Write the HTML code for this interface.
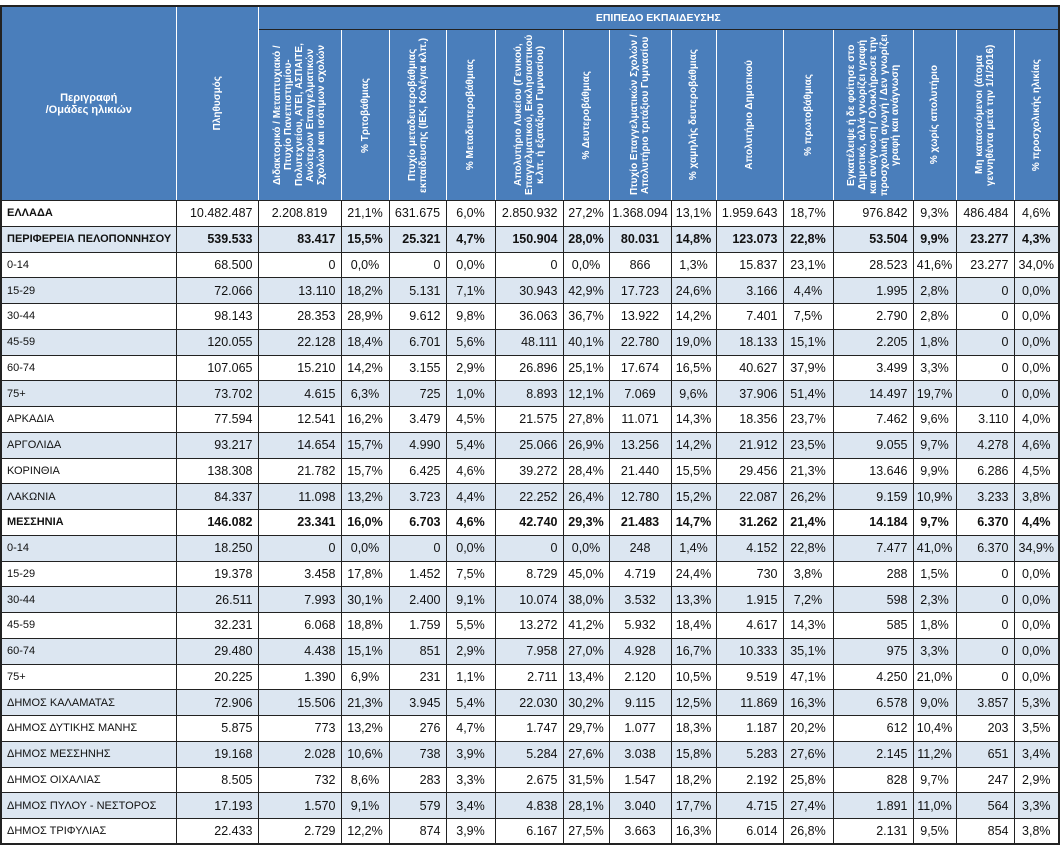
<!DOCTYPE html>
<html><head><meta charset="utf-8"><style>
body{margin:0;background:#fff;width:1060px;height:846px;overflow:hidden;font-family:"Liberation Sans",sans-serif;}
table{position:absolute;left:0;top:5px;border-collapse:collapse;table-layout:fixed;width:1058px;border:2px solid #222;}
td,th{border:1px solid #222;padding:0 4px;overflow:hidden;white-space:nowrap;}
th{background:#4a7ebb;color:#fff;font-size:10px;font-weight:bold;border-color:#fff #fff #222 #fff;}
th.top{height:22px;font-size:10.5px;}
th.v{height:170px;padding:0;}
th .r{writing-mode:vertical-rl;transform:rotate(180deg);margin:auto;line-height:11px;text-align:center;white-space:normal;max-height:162px;}
tr.d{height:25.75px}
td{font-size:12.5px;color:#111;text-align:right;padding:0 5px;}
td:first-child{text-align:left;font-size:11px;}
td.c{text-align:center;padding:0 2px}
tr.s td{background:#dce6f1}
tr.b td{font-weight:bold}
</style></head><body>
<table>
<colgroup><col style="width:175px"><col style="width:82px"><col style="width:83px"><col style="width:48px"><col style="width:57px"><col style="width:49px"><col style="width:68px"><col style="width:46px"><col style="width:62px"><col style="width:45px"><col style="width:67px"><col style="width:50px"><col style="width:80px"><col style="width:43px"><col style="width:58px"><col style="width:45px"></colgroup>
<tr><th rowspan="2" style="font-size:11px;border-left-color:#222">Περιγραφή<br>/Ομάδες ηλικιών</th><th rowspan="2" class="v"><div class="r">Πληθυσμός</div></th><th colspan="14" class="top">ΕΠΙΠΕΔΟ ΕΚΠΑΙΔΕΥΣΗΣ</th></tr>
<tr>
<th class="v"><div class="r">Διδακτορικό / Μεταπτυχιακό / Πτυχίο Πανεπιστημίου-Πολυτεχνείου, ΑΤΕΙ, ΑΣΠΑΙΤΕ, Ανώτερων Επαγγελματικών Σχολών και ισότιμων σχολών</div></th>
<th class="v"><div class="r">% Τριτοβάθμιας</div></th>
<th class="v"><div class="r">Πτυχίο μεταδευτεροβάθμιας εκπαίδευσης (ΙΕΚ, Κολέγια κλπ.)</div></th>
<th class="v"><div class="r">% Μεταδευτεροβάθμιας</div></th>
<th class="v"><div class="r">Απολυτήριο Λυκείου (Γενικού, Επαγγελματικού, Εκκλησιαστικού κ.λπ. ή εξατάξιου Γυμνασίου)</div></th>
<th class="v"><div class="r">% Δευτεροβάθμιας</div></th>
<th class="v"><div class="r">Πτυχίο Επαγγελματικών Σχολών / Απολυτήριο τριτάξιου Γυμνασίου</div></th>
<th class="v"><div class="r">% χαμηλής δευτεροβάθμιας</div></th>
<th class="v"><div class="r">Απολυτήριο Δημοτικού</div></th>
<th class="v"><div class="r">% πρωτοβάθμιας</div></th>
<th class="v"><div class="r">Εγκατέλειψε ή δε φοίτησε στο Δημοτικό, αλλά γνωρίζει γραφή και ανάγνωση / Ολοκλήρωσε την προσχολική αγωγή / Δεν γνωρίζει γραφή και ανάγνωση</div></th>
<th class="v"><div class="r">% χωρίς απολυτήριο</div></th>
<th class="v"><div class="r">Μη κατασσόμενοι (άτομα γεννηθέντα μετά την 1/1/2016)</div></th>
<th class="v" style="border-right-color:#222"><div class="r">% προσχολικής ηλικίας</div></th>
</tr>
<tr class="d"><td><b>ΕΛΛΑΔΑ</b></td><td>10.482.487</td><td class="c">2.208.819</td><td class="c">21,1%</td><td class="c">631.675</td><td class="c">6,0%</td><td>2.850.932</td><td class="c">27,2%</td><td class="c">1.368.094</td><td class="c">13,1%</td><td>1.959.643</td><td class="c">18,7%</td><td>976.842</td><td class="c">9,3%</td><td>486.484</td><td class="c">4,6%</td></tr>
<tr class="d s b"><td>ΠΕΡΙΦΕΡΕΙΑ ΠΕΛΟΠΟΝΝΗΣΟΥ</td><td>539.533</td><td>83.417</td><td class="c">15,5%</td><td>25.321</td><td class="c">4,7%</td><td>150.904</td><td class="c">28,0%</td><td class="c">80.031</td><td class="c">14,8%</td><td>123.073</td><td class="c">22,8%</td><td>53.504</td><td class="c">9,9%</td><td>23.277</td><td class="c">4,3%</td></tr>
<tr class="d"><td>0-14</td><td>68.500</td><td>0</td><td class="c">0,0%</td><td>0</td><td class="c">0,0%</td><td>0</td><td class="c">0,0%</td><td class="c">866</td><td class="c">1,3%</td><td>15.837</td><td class="c">23,1%</td><td>28.523</td><td class="c">41,6%</td><td>23.277</td><td class="c">34,0%</td></tr>
<tr class="d s"><td>15-29</td><td>72.066</td><td>13.110</td><td class="c">18,2%</td><td>5.131</td><td class="c">7,1%</td><td>30.943</td><td class="c">42,9%</td><td class="c">17.723</td><td class="c">24,6%</td><td>3.166</td><td class="c">4,4%</td><td>1.995</td><td class="c">2,8%</td><td>0</td><td class="c">0,0%</td></tr>
<tr class="d"><td>30-44</td><td>98.143</td><td>28.353</td><td class="c">28,9%</td><td>9.612</td><td class="c">9,8%</td><td>36.063</td><td class="c">36,7%</td><td class="c">13.922</td><td class="c">14,2%</td><td>7.401</td><td class="c">7,5%</td><td>2.790</td><td class="c">2,8%</td><td>0</td><td class="c">0,0%</td></tr>
<tr class="d s"><td>45-59</td><td>120.055</td><td>22.128</td><td class="c">18,4%</td><td>6.701</td><td class="c">5,6%</td><td>48.111</td><td class="c">40,1%</td><td class="c">22.780</td><td class="c">19,0%</td><td>18.133</td><td class="c">15,1%</td><td>2.205</td><td class="c">1,8%</td><td>0</td><td class="c">0,0%</td></tr>
<tr class="d"><td>60-74</td><td>107.065</td><td>15.210</td><td class="c">14,2%</td><td>3.155</td><td class="c">2,9%</td><td>26.896</td><td class="c">25,1%</td><td class="c">17.674</td><td class="c">16,5%</td><td>40.627</td><td class="c">37,9%</td><td>3.499</td><td class="c">3,3%</td><td>0</td><td class="c">0,0%</td></tr>
<tr class="d s"><td>75+</td><td>73.702</td><td>4.615</td><td class="c">6,3%</td><td>725</td><td class="c">1,0%</td><td>8.893</td><td class="c">12,1%</td><td class="c">7.069</td><td class="c">9,6%</td><td>37.906</td><td class="c">51,4%</td><td>14.497</td><td class="c">19,7%</td><td>0</td><td class="c">0,0%</td></tr>
<tr class="d"><td>ΑΡΚΑΔΙΑ</td><td>77.594</td><td>12.541</td><td class="c">16,2%</td><td>3.479</td><td class="c">4,5%</td><td>21.575</td><td class="c">27,8%</td><td class="c">11.071</td><td class="c">14,3%</td><td>18.356</td><td class="c">23,7%</td><td>7.462</td><td class="c">9,6%</td><td>3.110</td><td class="c">4,0%</td></tr>
<tr class="d s"><td>ΑΡΓΟΛΙΔΑ</td><td>93.217</td><td>14.654</td><td class="c">15,7%</td><td>4.990</td><td class="c">5,4%</td><td>25.066</td><td class="c">26,9%</td><td class="c">13.256</td><td class="c">14,2%</td><td>21.912</td><td class="c">23,5%</td><td>9.055</td><td class="c">9,7%</td><td>4.278</td><td class="c">4,6%</td></tr>
<tr class="d"><td>ΚΟΡΙΝΘΙΑ</td><td>138.308</td><td>21.782</td><td class="c">15,7%</td><td>6.425</td><td class="c">4,6%</td><td>39.272</td><td class="c">28,4%</td><td class="c">21.440</td><td class="c">15,5%</td><td>29.456</td><td class="c">21,3%</td><td>13.646</td><td class="c">9,9%</td><td>6.286</td><td class="c">4,5%</td></tr>
<tr class="d s"><td>ΛΑΚΩΝΙΑ</td><td>84.337</td><td>11.098</td><td class="c">13,2%</td><td>3.723</td><td class="c">4,4%</td><td>22.252</td><td class="c">26,4%</td><td class="c">12.780</td><td class="c">15,2%</td><td>22.087</td><td class="c">26,2%</td><td>9.159</td><td class="c">10,9%</td><td>3.233</td><td class="c">3,8%</td></tr>
<tr class="d b"><td>ΜΕΣΣΗΝΙΑ</td><td>146.082</td><td>23.341</td><td class="c">16,0%</td><td>6.703</td><td class="c">4,6%</td><td>42.740</td><td class="c">29,3%</td><td class="c">21.483</td><td class="c">14,7%</td><td>31.262</td><td class="c">21,4%</td><td>14.184</td><td class="c">9,7%</td><td>6.370</td><td class="c">4,4%</td></tr>
<tr class="d s"><td>0-14</td><td>18.250</td><td>0</td><td class="c">0,0%</td><td>0</td><td class="c">0,0%</td><td>0</td><td class="c">0,0%</td><td class="c">248</td><td class="c">1,4%</td><td>4.152</td><td class="c">22,8%</td><td>7.477</td><td class="c">41,0%</td><td>6.370</td><td class="c">34,9%</td></tr>
<tr class="d"><td>15-29</td><td>19.378</td><td>3.458</td><td class="c">17,8%</td><td>1.452</td><td class="c">7,5%</td><td>8.729</td><td class="c">45,0%</td><td class="c">4.719</td><td class="c">24,4%</td><td>730</td><td class="c">3,8%</td><td>288</td><td class="c">1,5%</td><td>0</td><td class="c">0,0%</td></tr>
<tr class="d s"><td>30-44</td><td>26.511</td><td>7.993</td><td class="c">30,1%</td><td>2.400</td><td class="c">9,1%</td><td>10.074</td><td class="c">38,0%</td><td class="c">3.532</td><td class="c">13,3%</td><td>1.915</td><td class="c">7,2%</td><td>598</td><td class="c">2,3%</td><td>0</td><td class="c">0,0%</td></tr>
<tr class="d"><td>45-59</td><td>32.231</td><td>6.068</td><td class="c">18,8%</td><td>1.759</td><td class="c">5,5%</td><td>13.272</td><td class="c">41,2%</td><td class="c">5.932</td><td class="c">18,4%</td><td>4.617</td><td class="c">14,3%</td><td>585</td><td class="c">1,8%</td><td>0</td><td class="c">0,0%</td></tr>
<tr class="d s"><td>60-74</td><td>29.480</td><td>4.438</td><td class="c">15,1%</td><td>851</td><td class="c">2,9%</td><td>7.958</td><td class="c">27,0%</td><td class="c">4.928</td><td class="c">16,7%</td><td>10.333</td><td class="c">35,1%</td><td>975</td><td class="c">3,3%</td><td>0</td><td class="c">0,0%</td></tr>
<tr class="d"><td>75+</td><td>20.225</td><td>1.390</td><td class="c">6,9%</td><td>231</td><td class="c">1,1%</td><td>2.711</td><td class="c">13,4%</td><td class="c">2.120</td><td class="c">10,5%</td><td>9.519</td><td class="c">47,1%</td><td>4.250</td><td class="c">21,0%</td><td>0</td><td class="c">0,0%</td></tr>
<tr class="d s"><td>ΔΗΜΟΣ ΚΑΛΑΜΑΤΑΣ</td><td>72.906</td><td>15.506</td><td class="c">21,3%</td><td>3.945</td><td class="c">5,4%</td><td>22.030</td><td class="c">30,2%</td><td class="c">9.115</td><td class="c">12,5%</td><td>11.869</td><td class="c">16,3%</td><td>6.578</td><td class="c">9,0%</td><td>3.857</td><td class="c">5,3%</td></tr>
<tr class="d"><td>ΔΗΜΟΣ ΔΥΤΙΚΗΣ ΜΑΝΗΣ</td><td>5.875</td><td>773</td><td class="c">13,2%</td><td>276</td><td class="c">4,7%</td><td>1.747</td><td class="c">29,7%</td><td class="c">1.077</td><td class="c">18,3%</td><td>1.187</td><td class="c">20,2%</td><td>612</td><td class="c">10,4%</td><td>203</td><td class="c">3,5%</td></tr>
<tr class="d s"><td>ΔΗΜΟΣ ΜΕΣΣΗΝΗΣ</td><td>19.168</td><td>2.028</td><td class="c">10,6%</td><td>738</td><td class="c">3,9%</td><td>5.284</td><td class="c">27,6%</td><td class="c">3.038</td><td class="c">15,8%</td><td>5.283</td><td class="c">27,6%</td><td>2.145</td><td class="c">11,2%</td><td>651</td><td class="c">3,4%</td></tr>
<tr class="d"><td>ΔΗΜΟΣ ΟΙΧΑΛΙΑΣ</td><td>8.505</td><td>732</td><td class="c">8,6%</td><td>283</td><td class="c">3,3%</td><td>2.675</td><td class="c">31,5%</td><td class="c">1.547</td><td class="c">18,2%</td><td>2.192</td><td class="c">25,8%</td><td>828</td><td class="c">9,7%</td><td>247</td><td class="c">2,9%</td></tr>
<tr class="d s"><td>ΔΗΜΟΣ ΠΥΛΟΥ - ΝΕΣΤΟΡΟΣ</td><td>17.193</td><td>1.570</td><td class="c">9,1%</td><td>579</td><td class="c">3,4%</td><td>4.838</td><td class="c">28,1%</td><td class="c">3.040</td><td class="c">17,7%</td><td>4.715</td><td class="c">27,4%</td><td>1.891</td><td class="c">11,0%</td><td>564</td><td class="c">3,3%</td></tr>
<tr class="d"><td>ΔΗΜΟΣ ΤΡΙΦΥΛΙΑΣ</td><td>22.433</td><td>2.729</td><td class="c">12,2%</td><td>874</td><td class="c">3,9%</td><td>6.167</td><td class="c">27,5%</td><td class="c">3.663</td><td class="c">16,3%</td><td>6.014</td><td class="c">26,8%</td><td>2.131</td><td class="c">9,5%</td><td>854</td><td class="c">3,8%</td></tr>
</table>
</body></html>
